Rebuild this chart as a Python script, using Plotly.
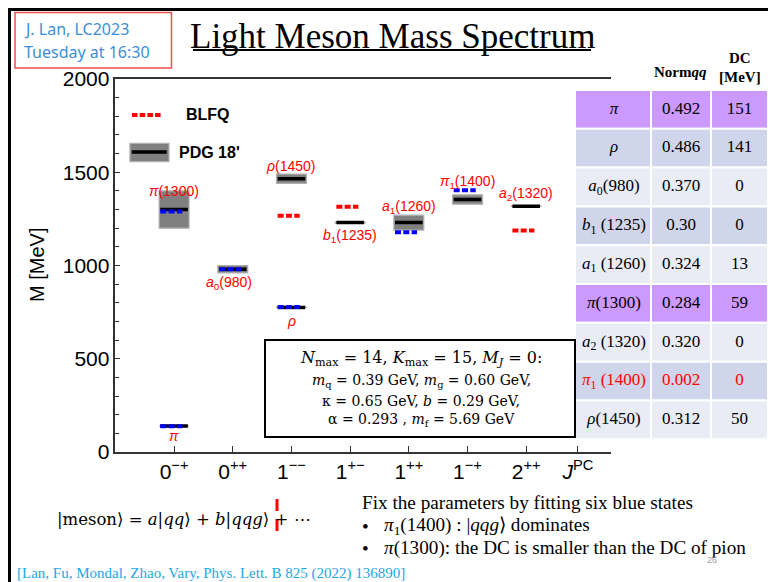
import plotly.graph_objects as go

W, H = 768, 582

# ---------------- spectrum data (MeV) ----------------
states = ["π", "π(1300)", "a0(980)", "ρ", "ρ(1450)", "b1(1235)", "a1(1260)", "π1(1400)", "a2(1320)"]
state_labels = ["<i>π</i>", "<i>π</i>(1300)", "<i>a</i><sub>0</sub>(980)", "<i>ρ</i>", "<i>ρ</i>(1450)",
                "<i>b</i><sub>1</sub>(1235)", "<i>a</i><sub>1</sub>(1260)", "<i>π</i><sub>1</sub>(1400)",
                "<i>a</i><sub>2</sub>(1320)"]
jpc_index = [1, 1, 2, 3, 3, 4, 5, 6, 7]
pdg_mass = [140, 1300, 980, 775, 1465, 1230, 1230, 1354, 1318]
pdg_err = [0, 100, 20, 0.3, 25, 3.2, 40, 25, 0.6]
blfq_mass = [138, 1289, 980, 777, 1267, 1315, 1178, 1403, 1187]
fitted = [True, True, True, True, False, False, True, True, False]

jpc_ticks = [1, 2, 3, 4, 5, 6, 7, 7.88]
jpc_text = ["0<sup>−+</sup>", "0<sup>++</sup>", "1<sup>−−</sup>", "1<sup>+−</sup>", "1<sup>++</sup>",
            "1<sup>−+</sup>", "2<sup>++</sup>", "<i>J</i><sup>PC</sup>"]

# ---------------- table data ----------------
table_names = ["<i>π</i>", "<i>ρ</i>", "<i>a</i><sub>0</sub>(980)", "<i>b</i><sub>1</sub> (1235)",
               "<i>a</i><sub>1</sub> (1260)", "<i>π</i>(1300)", "<i>a</i><sub>2</sub> (1320)",
               "<i>π</i><sub>1</sub> (1400)", "<i>ρ</i>(1450)"]
norm_qq = ["0.492", "0.486", "0.370", "0.30", "0.324", "0.284", "0.320", "0.002", "0.312"]
dc_mev = ["151", "141", "0", "0", "13", "59", "0", "0", "50"]
row_highlight = [True, False, False, False, False, True, False, False, False]
row_red = [False, False, False, False, False, False, False, True, False]

# ---------------- styling ----------------
BLUE, RED, BLACK = "#0000ff", "#ff0000", "#000000"
SANS, SERIF, MATH = "Liberation Sans", "Liberation Serif", "DejaVu Serif"
label_shift = [-10, 19, -14, -14, 13, -13, 16, 17, 12]   # px offset of state labels
label_xshift = [0, 0, -4, 0, 0, 0, 0, 0, 0]
col_edges = [0, 76, 136, 193]


def px(x):
    return x / W


def py(y):
    return 1 - y / H


fig = go.Figure()


def note(x, y, text, size, color=BLACK, family=SERIF, xanchor="center", **kw):
    """Text placed in page pixel coordinates."""
    fig.add_annotation(x=px(x), y=py(y), xref="paper", yref="paper", text=text, showarrow=False,
                       xanchor=xanchor, yanchor="middle",
                       font=dict(family=family, size=size, color=color), **kw)


# PDG mass bands
for x, m, e in zip(jpc_index, pdg_mass, pdg_err):
    fig.add_shape(type="rect", xref="x", yref="y", x0=x - 0.255, x1=x + 0.255, y0=m - e, y1=m + e,
                  fillcolor="#808080", line=dict(color="#b0b0b0", width=1.2), layer="below")

# PDG central values
xs, ys = [], []
for x, m in zip(jpc_index, pdg_mass):
    xs += [x - 0.235, x + 0.235, None]
    ys += [m, m, None]
fig.add_trace(go.Scatter(x=xs, y=ys, mode="lines", line=dict(color=BLACK, width=3.5),
                         hoverinfo="skip", showlegend=False))

# BLFQ results: blue = fitted states, red = predictions
for flag, col in [(True, BLUE), (False, RED)]:
    xs, ys = [], []
    for x, m, f in zip(jpc_index, blfq_mass, fitted):
        if f == flag:
            xs += [x - 0.235, x + 0.14, None]
            ys += [m, m, None]
    fig.add_trace(go.Scatter(x=xs, y=ys, mode="lines",
                             line=dict(color=col, width=4, dash="6px,2.3px"),
                             hoverinfo="skip", showlegend=False))

# state labels
for x, m, lab, s, xs_ in zip(jpc_index, pdg_mass, state_labels, label_shift, label_xshift):
    fig.add_annotation(x=x, y=m, xref="x", yref="y", text=lab, showarrow=False,
                       xanchor="center", yanchor="middle",
                       yshift=s, xshift=xs_, font=dict(family=SANS, size=14, color=RED))

# in-plot key
fig.add_trace(go.Scatter(x=[0.283, 0.777], y=[1807, 1807], mode="lines",
                         line=dict(color=RED, width=4, dash="5.5px,2.2px"),
                         hoverinfo="skip", showlegend=False))
fig.add_shape(type="rect", xref="x", yref="y", x0=0.248, x1=0.913, y0=1557, y1=1655,
              fillcolor="#808080", line=dict(color="#b0b0b0", width=1.2), layer="below")
fig.add_trace(go.Scatter(x=[0.278, 0.874], y=[1609, 1609], mode="lines",
                         line=dict(color=BLACK, width=3.5), hoverinfo="skip", showlegend=False))
note(184, 115, "<b>BLFQ</b>", 16, family=SANS, xanchor="left")
note(177, 152.5, "<b>PDG 18'</b>", 16, family=SANS, xanchor="left")

# ---------------- table ----------------
for r in range(len(table_names)):
    if row_highlight[r]:
        fill = "#cc99ff"
    elif r % 2 == 1:
        fill = "#cfd5ea"
    else:
        fill = "#e9ebf5"
    for c in range(3):
        fig.add_shape(type="rect", xref="x2", yref="y2", x0=col_edges[c], x1=col_edges[c + 1],
                      y0=r, y1=r + 1, fillcolor=fill, line=dict(color="white", width=2),
                      layer="below")

cx = [(col_edges[i] + col_edges[i + 1]) / 2 for i in range(3)]
tx, ty, tt, tc = [], [], [], []
for r in range(len(table_names)):
    col = RED if row_red[r] else BLACK
    for c, val in enumerate([table_names[r], norm_qq[r], dc_mev[r]]):
        tx.append(cx[c] + (1 if c == 0 else 0))
        ty.append(r + 0.5)
        tt.append(val)
        tc.append(col)
fig.add_trace(go.Scatter(x=tx, y=ty, text=tt, mode="text", xaxis="x2", yaxis="y2",
                         textposition="middle center",
                         textfont=dict(family=SERIF, size=17, color=tc),
                         hoverinfo="skip", showlegend=False))

note(680, 72, "<b>Norm<i>qq</i></b>", 15)
note(740, 58, "<b>DC</b>", 15)
note(740, 77, "<b>[MeV]</b>", 15)

# ---------------- parameter box ----------------
fig.add_shape(type="rect", xref="paper", yref="paper", x0=px(265), x1=px(575), y0=py(437), y1=py(340),
              fillcolor="white", line=dict(color=BLACK, width=2))
param_lines = [
    ("<i>N</i><sub>max</sub> = 14, <i>K</i><sub>max</sub> = 15, <i>M<sub>J</sub></i> = 0:", 358, 16),
    ("<i>m</i><sub>q</sub> = 0.39 GeV, <i>m</i><sub>g</sub> = 0.60 GeV,", 381, 14),
    ("κ = 0.65 GeV, <i>b</i> = 0.29 GeV,", 401, 14),
    ("α = 0.293 , <i>m</i><sub>f</sub> = 5.69 GeV", 420, 14),
]
for txt, yy, sz in param_lines:
    note(421, yy, txt, sz, family=MATH)

# ---------------- slide decorations ----------------
fig.add_shape(type="line", xref="paper", yref="paper", x0=px(8), x1=1.0, y0=py(9.5), y1=py(9.5),
              line=dict(color=BLACK, width=3))
fig.add_shape(type="line", xref="paper", yref="paper", x0=px(9.5), x1=px(9.5), y0=py(8), y1=0.0,
              line=dict(color=BLACK, width=3))
fig.add_shape(type="rect", xref="paper", yref="paper", x0=px(15), x1=px(171.5), y0=py(68), y1=py(12.5),
              line=dict(color="#f05050", width=1.5))
note(22, 29, "J. Lan, LC2023", 16, color="#3b8fd6", family="Noto Sans", xanchor="left")
note(22, 52, "Tuesday at 16:30", 16, color="#3b8fd6", family="Noto Sans", xanchor="left")
note(392, 36, "Light Meson Mass Spectrum", 35)
fig.add_shape(type="line", xref="paper", yref="paper", x0=px(193), x1=px(591), y0=py(50), y1=py(50),
              line=dict(color=BLACK, width=2))

note(37, 265, "M [MeV]", 20, family=SANS, textangle=-90)

# bottom text
note(55, 519, "|meson⟩ = <i>a</i>|<i>qq</i>⟩ + <i>b</i>|<i>qqg</i>⟩ + ⋯", 16.5, family=MATH,
     xanchor="left")
fig.add_shape(type="line", xref="paper", yref="paper", x0=px(277), x1=px(277), y0=py(499), y1=py(511),
              line=dict(color=RED, width=3))
fig.add_shape(type="line", xref="paper", yref="paper", x0=px(277), x1=px(277), y0=py(519), y1=py(531),
              line=dict(color=RED, width=3))
note(360, 502, "Fix the parameters by fitting six blue states", 19.2, xanchor="left")
for yy, txt in [(526, "<i>π</i><sub>1</sub>(1400) : |<i>qqg</i>⟩ dominates"),
                (548, "<i>π</i>(1300): the DC is smaller than the DC of pion")]:
    note(360, yy, "•", 19.2, xanchor="left")
    note(382, yy, txt, 19.2, xanchor="left")
note(712, 560, "26", 9, color="#a0a0a0", family=SANS)
note(15, 573, "[Lan, Fu, Mondal, Zhao, Vary, Phys. Lett. B 825 (2022) 136890]", 15,
     color="#1ea7e6", xanchor="left")

# ---------------- axes ----------------
axis_col = "#333333"
fig.update_layout(
    width=W, height=H, margin=dict(l=0, r=0, t=0, b=0, pad=0, autoexpand=False),
    paper_bgcolor="white", plot_bgcolor="rgba(0,0,0,0)", showlegend=False,
    xaxis=dict(domain=[px(115.4), px(610.7)], range=[0, 8.44], showgrid=False, zeroline=False,
               showline=True, linecolor=axis_col, linewidth=1.5, mirror=True,
               ticks="inside", ticklen=6, tickwidth=1, tickcolor=axis_col,
               tickvals=jpc_ticks, ticktext=jpc_text, tickfont=dict(family=SANS, size=21, color=BLACK)),
    yaxis=dict(domain=[py(452), py(79)], range=[0, 2000], showgrid=False, zeroline=False,
               showline=True, linecolor=axis_col, linewidth=1.5,
               ticks="inside", ticklen=5, tickwidth=1, tickcolor=axis_col,
               tickvals=[0, 500, 1000, 1500, 2000], tickfont=dict(family=SANS, size=21, color=BLACK),
               minor=dict(dtick=100, ticks="inside", ticklen=4, tickcolor=axis_col, showgrid=False)),
    xaxis2=dict(domain=[px(575), 1.0], range=[0, 193], visible=False, fixedrange=True, anchor="y2"),
    yaxis2=dict(domain=[py(439.3), py(90)], range=[9, 0], visible=False, fixedrange=True,
                anchor="x2"),
)
fig.update_traces(cliponaxis=False)

fig.write_html("out.html")
